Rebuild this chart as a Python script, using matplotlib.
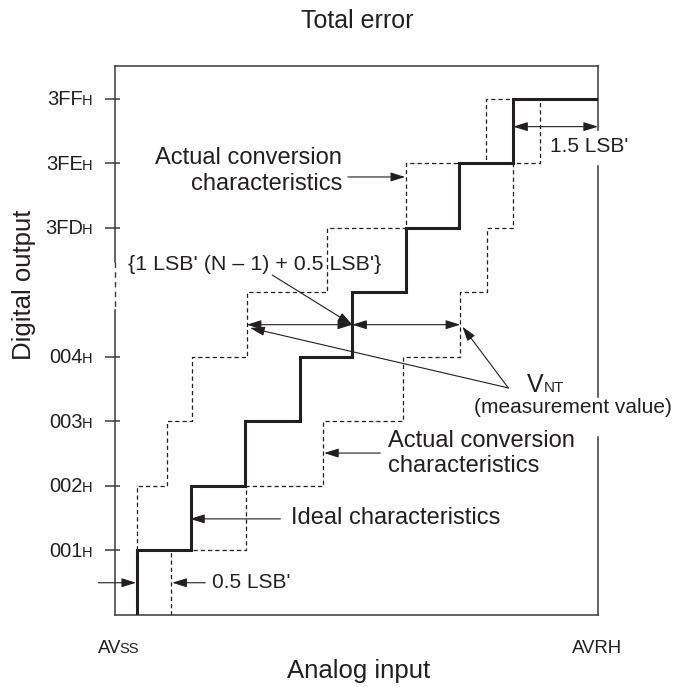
import matplotlib.pyplot as plt

plt.rcParams['font.family'] = ['Liberation Sans', 'DejaVu Sans']

# output codes on the y axis (level 5 is hidden in the axis break)
tick_levels = [1, 2, 3, 4, 6, 7, 8]
tick_codes = ['001', '002', '003', '004', '3FD', '3FE', '3FF']

# code transition points, in LSB' counted from AVss
ideal_x = [0.4, 1.4, 2.41, 3.43, 4.39, 5.39, 6.37, 7.37]
ideal_y = [1, 2, 3, 4, 5, 6, 7, 8]
upper_x = [0.41, 0.96, 1.43, 2.44, 3.93, 5.39, 6.87]   # actual, early
upper_y = [2, 3, 4, 5, 6, 7, 8]
lower_x = [1.04, 2.43, 3.85, 5.33, 6.39, 6.89, 7.37, 7.87]  # actual, late
lower_y = [1, 2, 3, 4, 5, 6, 7, 8]
x_end = 8.94   # AVRH
y_top = 8.51

ink = '#231f20'
frame = '#3a3a3a'

fig = plt.figure(figsize=(6.73, 6.87), dpi=100)
ax = fig.add_axes([115 / 673, 72 / 687, 483 / 673, 549 / 687])
ax.set_xlim(0, x_end)
ax.set_ylim(0, y_top)
ax.set_axis_off()

# staircases
ax.step([ideal_x[0]] + ideal_x + [x_end], [0] + ideal_y + [ideal_y[-1]],
        where='post', color=ink, lw=2.2, zorder=4, solid_joinstyle='miter')
ax.step([upper_x[0]] + upper_x + [ideal_x[-1]], [1] + upper_y + [upper_y[-1]],
        where='post', color=ink, lw=0.9, dashes=(3.4, 2.4), zorder=3)
ax.step([lower_x[0]] + lower_x, [0] + lower_y,
        where='post', color=ink, lw=0.9, dashes=(3.4, 2.4), zorder=3)

# frame with breaks
kw = dict(color=frame, lw=1.1, clip_on=False, zorder=2)
ax.plot([0, x_end], [y_top, y_top], **kw)
ax.plot([0, x_end], [0, 0], **kw)
ax.plot([0, 0], [y_top, 5.47], **kw)
ax.plot([0, 0], [5.47, 4.73], color=frame, lw=1.0, dashes=(4, 3), clip_on=False)
ax.plot([0, 0], [4.73, 0], **kw)
ax.plot([x_end, x_end], [y_top, 7.52], **kw)
ax.plot([x_end, x_end], [6.96, 3.38], **kw)
ax.plot([x_end, x_end], [2.76, 0], **kw)

# y ticks and labels
ytr = ax.get_yaxis_transform()
ax.hlines(tick_levels, -10 / 483, 5 / 483, transform=ytr, color=frame, lw=1.1, clip_on=False)
for lev, code in zip(tick_levels, tick_codes):
    ax.text(-32 / 483, lev - 0.1, code, transform=ytr, ha='right', va='baseline',
            fontsize=14.5, color=ink)
    ax.text(-33 / 483, lev - 0.1, 'H', transform=ytr, ha='left', va='baseline',
            fontsize=10.5, color=ink)


def arrow(x0, y0, x1, y1, style='-|>'):
    ax.annotate('', xy=(x1, y1), xytext=(x0, y0), annotation_clip=False,
                arrowprops=dict(arrowstyle=style + ',head_length=0.8,head_width=0.25',
                                mutation_scale=11, lw=0.8, color=ink,
                                shrinkA=0, shrinkB=0))


# upper "actual" label
ax.text(4.20, 6.88, 'Actual conversion\ncharacteristics', ha='right', va='center',
        multialignment='right', fontsize=17, color=ink)
arrow(4.31, 6.79, 5.37, 6.79)

# N-th transition
ax.text(0.24, 5.43, "{1 LSB' (N \u2013 1) + 0.5 LSB'}", ha='left', va='center',
        fontsize=15.4, color=ink)
arrow(2.91, 5.27, 4.39, 4.50)
arrow(2.44, 4.50, 4.39, 4.50, '<|-|>')
arrow(4.39, 4.50, 6.39, 4.50, '<|-|>')

# VNT
arrow(7.28, 3.52, 2.50, 4.45)
arrow(7.28, 3.52, 6.43, 4.47)
ax.text(7.63, 3.46, 'V', ha='left', va='baseline', fontsize=18, color=ink)
ax.text(7.94, 3.46, 'NT', ha='left', va='baseline', fontsize=11, color=ink)
ax.text(8.47, 3.21, '(measurement value)', ha='center', va='center', fontsize=15,
        color=ink)

# lower "actual" label
ax.text(5.06, 2.50, 'Actual conversion\ncharacteristics', ha='left', va='center',
        multialignment='left', fontsize=17, color=ink)
arrow(4.91, 2.51, 3.87, 2.51)

# ideal label
ax.text(3.26, 1.50, 'Ideal characteristics', ha='left', va='center', fontsize=17,
        color=ink)
arrow(3.06, 1.49, 1.39, 1.49)

# 0.5 LSB'
ax.text(1.80, 0.50, "0.5 LSB'", ha='left', va='center', fontsize=15, color=ink)
arrow(1.67, 0.50, 1.06, 0.50)
arrow(-0.31, 0.50, 0.39, 0.50)

# 1.5 LSB'
ax.text(8.06, 7.26, "1.5 LSB'", ha='left', va='center', fontsize=15, color=ink)
arrow(ideal_x[-1], 7.57, x_end, 7.57, '<|-|>')

# titles
fig.text(357 / 673, 1 - 28 / 687, 'Total error', ha='center', va='baseline',
         fontsize=18, color=ink)
fig.text(359 / 673, 1 - 678 / 687, 'Analog input', ha='center', va='baseline',
         fontsize=18.5, color=ink)
fig.text(24 / 673, 1 - 285 / 687, 'Digital output', ha='center', va='center',
         rotation=90, fontsize=18.5, color=ink)
fig.text(121 / 673, 1 - 653 / 687, 'AV', ha='right', va='baseline', fontsize=13.4,
         color=ink)
fig.text(119.5 / 673, 1 - 653 / 687, 'SS', ha='left', va='baseline', fontsize=10.5,
         color=ink)
fig.text(572 / 673, 1 - 653 / 687, 'AVRH', ha='left', va='baseline', fontsize=13.4,
         color=ink)

fig.savefig('out.png', dpi=100)
